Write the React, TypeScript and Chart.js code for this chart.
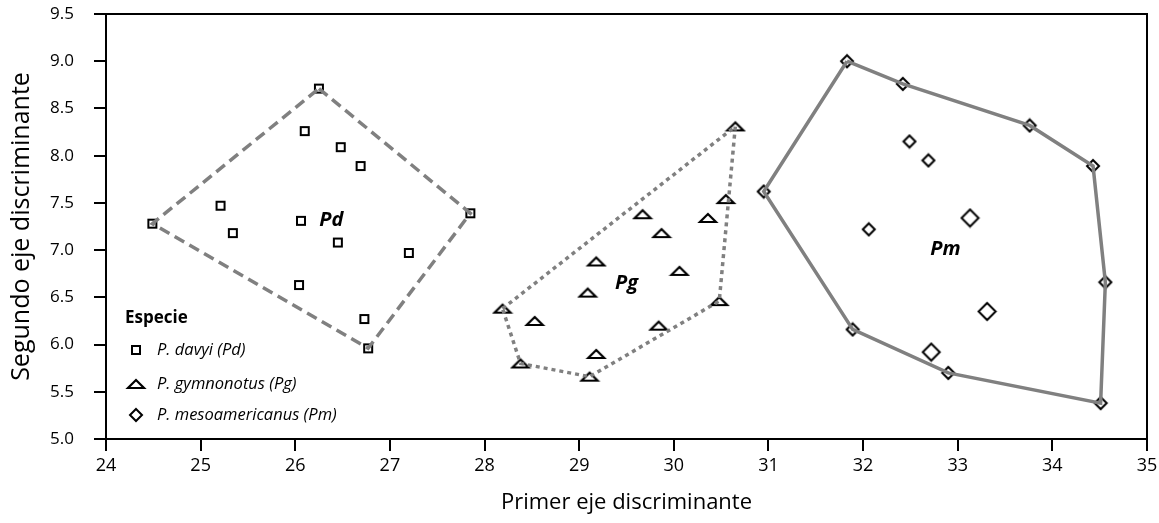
import React, { useEffect, useRef } from 'react';
import { Chart, registerables } from 'chart.js';

Chart.register(...registerables);

// ---------- data ----------
const xTickValues = [24, 25, 26, 27, 28, 29, 30, 31, 32, 33, 34, 35];
const yTickValues = [5.0, 5.5, 6.0, 6.5, 7.0, 7.5, 8.0, 8.5, 9.0, 9.5];

// P. davyi (Pd)
const pdX = [26.25, 24.49, 27.85, 26.77, 26.10, 26.48, 26.69, 25.21, 26.06, 25.34, 26.45, 27.20, 26.04, 26.73];
const pdY = [8.71, 7.28, 7.39, 5.96, 8.26, 8.09, 7.89, 7.47, 7.31, 7.18, 7.08, 6.97, 6.63, 6.27];
const pdHullX = [26.25, 27.85, 26.77, 24.49, 26.25];
const pdHullY = [8.71, 7.39, 5.96, 7.28, 8.71];

// P. gymnonotus (Pg)
const pgX = [30.65, 30.55, 29.67, 30.36, 29.87, 29.18, 30.06, 29.09, 28.19, 28.53, 29.84, 30.48, 29.18, 28.38, 29.11];
const pgY = [8.31, 7.54, 7.38, 7.34, 7.18, 6.88, 6.78, 6.55, 6.38, 6.25, 6.20, 6.46, 5.90, 5.80, 5.66];
const pgHullX = [28.19, 30.65, 30.48, 29.11, 28.38, 28.19];
const pgHullY = [6.38, 8.31, 6.46, 5.66, 5.80, 6.38];

// P. mesoamericanus (Pm)
const pmX = [31.83, 32.42, 33.76, 34.43, 30.95, 34.56, 34.51, 32.90, 31.89, 32.49, 32.69, 33.13, 32.06, 33.31, 32.72];
const pmY = [9.00, 8.76, 8.32, 7.89, 7.62, 6.66, 5.38, 5.70, 6.16, 8.15, 7.95, 7.34, 7.22, 6.35, 5.92];
const pmHullX = [31.83, 32.42, 33.76, 34.43, 34.56, 34.51, 32.90, 31.89, 30.95, 31.83];
const pmHullY = [9.00, 8.76, 8.32, 7.89, 6.66, 5.38, 5.70, 6.16, 7.62, 9.00];

// group labels
const groupLabels = ['Pd', 'Pg', 'Pm'];
const groupLabelX = [26.38, 29.50, 32.87];
const groupLabelY = [7.32, 6.65, 7.01];

// legend
const legendTitle = 'Especie';
const legendNames = ['P. davyi (Pd)', 'P. gymnonotus (Pg)', 'P. mesoamericanus (Pm)'];

const xTitle = 'Primer eje discriminante';
const yTitle = 'Segundo eje discriminante';

// ---------- styles ----------
const FONT = '"Open Sans", "Noto Sans", sans-serif';
const HULL_COLOR = '#808080';
const PM_LARGE = new Set([11, 13, 14]);

const zip = (xs: number[], ys: number[]) => xs.map((x, i) => ({ x, y: ys[i] }));

function mkCanvas(w: number, h: number, draw: (g: CanvasRenderingContext2D) => void) {
  const c = document.createElement('canvas');
  c.width = w;
  c.height = h;
  const g = c.getContext('2d')!;
  draw(g);
  return c;
}

export default function App() {
  const ref = useRef<HTMLCanvasElement>(null);

  useEffect(() => {
    if (!ref.current) return;

    const square = mkCanvas(12, 12, (g) => {
      g.fillStyle = '#fff';
      g.strokeStyle = '#000';
      g.lineWidth = 2;
      g.fillRect(2, 2, 8, 8);
      g.strokeRect(2, 2, 8, 8);
    });
    const triangle = mkCanvas(22, 14, (g) => {
      g.fillStyle = '#fff';
      g.strokeStyle = '#000';
      g.lineWidth = 2.2;
      g.lineJoin = 'miter';
      g.beginPath();
      g.moveTo(3, 11);
      g.lineTo(19, 11);
      g.lineTo(11, 3);
      g.closePath();
      g.fill();
      g.stroke();
    });
    const diamondOf = (half: number) => {
      const s = Math.ceil(half * 2 + 4);
      const c = s / 2;
      return mkCanvas(s, s, (g) => {
        g.fillStyle = '#fff';
        g.strokeStyle = '#000';
        g.lineWidth = 2;
        g.beginPath();
        g.moveTo(c, c - half);
        g.lineTo(c + half, c);
        g.lineTo(c, c + half);
        g.lineTo(c - half, c);
        g.closePath();
        g.fill();
        g.stroke();
      });
    };
    const diamond = diamondOf(6);
    const diamondL = diamondOf(8.5);

    const hull = (xs: number[], ys: number[], dash: number[], width: number) => ({
      type: 'scatter' as const,
      data: zip(xs, ys),
      showLine: true,
      borderColor: HULL_COLOR,
      borderWidth: width,
      borderDash: dash,
      borderCapStyle: 'butt' as const,
      borderJoinStyle: 'miter' as const,
      pointRadius: 0,
      pointHoverRadius: 0,
      fill: false,
      tension: 0,
    });

    const overlay = {
      id: 'overlay',
      afterDraw(chart: any) {
        const { ctx, chartArea, scales } = chart;
        const xs = scales.x;
        const ys = scales.y;
        ctx.save();
        // top and right frame
        ctx.strokeStyle = '#000';
        ctx.lineWidth = 2;
        ctx.beginPath();
        ctx.moveTo(chartArea.left, chartArea.top);
        ctx.lineTo(chartArea.right, chartArea.top);
        ctx.lineTo(chartArea.right, chartArea.bottom);
        ctx.stroke();

        // group labels
        ctx.fillStyle = '#000';
        ctx.font = `italic bold 20px ${FONT}`;
        ctx.textAlign = 'center';
        ctx.textBaseline = 'middle';
        groupLabels.forEach((t, i) => {
          ctx.fillText(t, xs.getPixelForValue(groupLabelX[i]), ys.getPixelForValue(groupLabelY[i]));
        });

        // legend
        const lx = chartArea.left + 19;
        ctx.textAlign = 'left';
        ctx.font = `bold 17px ${FONT}`;
        ctx.fillText(legendTitle, lx, 318);
        const icons = [square, triangle, diamond];
        const rowY = [350, 384, 415];
        ctx.font = `italic 16.5px ${FONT}`;
        legendNames.forEach((t, i) => {
          const ic = icons[i];
          ctx.drawImage(ic, lx + 11 - ic.width / 2, rowY[i] - ic.height / 2);
          ctx.fillText(t, lx + 32, rowY[i]);
        });
        ctx.restore();
      },
    };

    const chart = new Chart(ref.current, {
      type: 'scatter',
      data: {
        datasets: [
          hull(pdHullX, pdHullY, [11, 6], 3.5),
          hull(pgHullX, pgHullY, [4, 4], 3.5),
          hull(pmHullX, pmHullY, [], 3.5),
          {
            label: 'P. davyi (Pd)',
            data: zip(pdX, pdY),
            pointStyle: square as any,
            pointRadius: 6,
          },
          {
            label: 'P. gymnonotus (Pg)',
            data: zip(pgX, pgY),
            pointStyle: triangle as any,
            pointRadius: 8,
          },
          {
            label: 'P. mesoamericanus (Pm)',
            data: zip(pmX, pmY),
            pointStyle: ((c: any) => (PM_LARGE.has(c.dataIndex) ? diamondL : diamond)) as any,
            pointRadius: 8,
          },
        ] as any,
      },
      options: {
        animation: false,
        responsive: true,
        maintainAspectRatio: false,
        layout: { padding: { top: 14, right: 12, left: 0, bottom: 0 } },
        plugins: {
          legend: { display: false },
          tooltip: { enabled: false },
        },
        events: [],
        scales: {
          x: {
            type: 'linear',
            min: 24,
            max: 35,
            afterBuildTicks: (s: any) => {
              s.ticks = xTickValues.map((v) => ({ value: v }));
            },
            afterFit: (s: any) => {
              s.height = 84;
              s.paddingLeft = 0;
              s.paddingRight = 0;
            },
            ticks: {
              color: '#000',
              font: { family: FONT, size: 18 },
              padding: 4,
              callback: (v: any) => String(v),
            },
            grid: { drawOnChartArea: false, drawTicks: true, tickLength: 12, color: '#000', lineWidth: 2 },
            border: { color: '#000', width: 2 },
            title: {
              display: true,
              text: xTitle,
              color: '#000',
              font: { family: FONT, size: 22 },
              padding: { top: 0, bottom: 7 },
            },
          },
          y: {
            type: 'linear',
            min: 5,
            max: 9.5,
            afterBuildTicks: (s: any) => {
              s.ticks = yTickValues.map((v) => ({ value: v }));
            },
            afterFit: (s: any) => {
              s.width = 106;
              s.paddingTop = 0;
              s.paddingBottom = 0;
            },
            ticks: {
              color: '#000',
              font: { family: FONT, size: 17 },
              padding: 20,
              callback: (v: any) => Number(v).toFixed(1),
            },
            grid: { drawOnChartArea: false, drawTicks: true, tickLength: 12, color: '#000', lineWidth: 2 },
            border: { color: '#000', width: 2 },
            title: {
              display: true,
              text: yTitle,
              color: '#000',
              font: { family: FONT, size: 25 },
              padding: { top: 7, bottom: 0 },
            },
          },
        },
      },
      plugins: [overlay],
    });

    return () => chart.destroy();
  }, []);

  return (
    <div style={{ position: 'absolute', left: 0, top: 0, width: 1159, height: 523, background: '#fff' }}>
      <canvas ref={ref} />
    </div>
  );
}
